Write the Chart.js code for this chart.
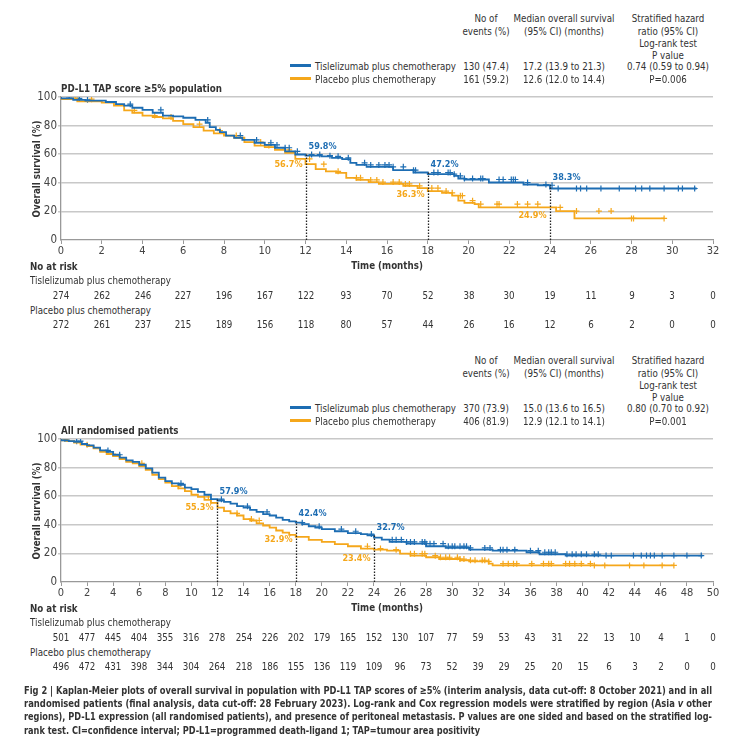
<!DOCTYPE html>
<html>
<head>
<meta charset="utf-8">
<script src="https://cdn.jsdelivr.net/npm/chart.js@4.4.1/dist/chart.umd.min.js"></script>
<style>
  html, body { margin: 0; padding: 0; background: #fff; }
  #page {
    position: relative; width: 736px; height: 740px; overflow: hidden;
    font-family: "Liberation Sans Narrow", "DejaVu Sans Condensed", "Liberation Sans", sans-serif;
    color: #333;
  }
  canvas { position: absolute; left: 0; }
  .t { position: absolute; white-space: nowrap; font-size: 11px; line-height: 13px; color: #333; }
  .b { font-weight: bold; }
  .key { position: absolute; width: 21px; height: 2.5px; }
  .cap { position: absolute; left: 24px; display: inline-block; font-size: 11px; line-height: 13px;
    font-weight: bold; color: #333; white-space: nowrap; transform-origin: 0 50%; }
</style>
</head>
<body>
<div id="page">
  <canvas id="km1" width="736" height="200" style="top:80px"></canvas>
  <canvas id="km2" width="736" height="200" style="top:422px"></canvas>
</div>
<script>
(function () {

  'use strict';

  var blue = '#1d6db3',
    orange = '#f5a71b',
    fontFamily = '"Liberation Sans Narrow", "DejaVu Sans Condensed", "Liberation Sans", sans-serif';

  Chart.defaults.font.family = fontFamily;

  // Group names and summary table
  const groups = ['Tislelizumab plus chemotherapy', 'Placebo plus chemotherapy'];
  const headerCols = [
    ['No of', 'events (%)'],
    ['Median overall survival', '(95% CI) (months)'],
    ['Stratified hazard', 'ratio (95% CI)', 'Log-rank test', 'P value']
  ];
  const summary1 = [
    ['130 (47.4)', '17.2 (13.9 to 21.3)', '0.74 (0.59 to 0.94)'],
    ['161 (59.2)', '12.6 (12.0 to 14.4)', 'P=0.006']
  ];
  const summary2 = [
    ['370 (73.9)', '15.0 (13.6 to 16.5)', '0.80 (0.70 to 0.92)'],
    ['406 (81.9)', '12.9 (12.1 to 14.1)', 'P=0.001']
  ];

  // Panel 1: PD-L1 TAP score >=5% population
  const riskMonths1 = [0, 2, 4, 6, 8, 10, 12, 14, 16, 18, 20, 22, 24, 26, 28, 30, 32];
  const riskTis1 = [274, 262, 246, 227, 196, 167, 122, 93, 70, 52, 38, 30, 19, 11, 9, 3, 0];
  const riskPla1 = [272, 261, 237, 215, 189, 156, 118, 80, 57, 44, 26, 16, 12, 6, 2, 0, 0];

  // [month, survival %]
  const tisCurve1 = [
    [0, 100], [0.6, 99], [1.2, 98], [2.2, 97.5], [2.7, 96.5], [3.1, 95], [3.5, 94], [4, 92.5],
    [4.5, 91], [5, 89], [5.5, 87], [6, 86.5], [6.6, 85.5], [7.1, 84], [7.3, 82], [7.6, 79],
    [7.8, 77], [8.1, 75.5], [8.5, 73], [8.9, 71.5], [9.5, 70], [10, 68], [10.5, 66.5], [11, 64.5],
    [11.5, 62], [12, 59.8], [12.8, 59], [13.3, 58.5], [13.8, 57.5], [14.2, 56.5], [14.5, 54],
    [15, 52.5], [16.3, 51.2], [17.3, 48.8], [18, 47.2], [19.3, 46], [19.5, 44.9], [19.8, 43],
    [21, 42.3], [22.7, 40.2], [23.4, 38.8], [24, 38.3], [24.4, 36], [31.2, 36]
  ];
  const plaCurve1 = [
    [0, 100], [0.8, 98.5], [2, 97], [2.6, 96], [3.1, 94], [3.5, 90.7], [4, 89], [4.5, 87],
    [5, 86], [5.5, 85], [6, 83.3], [6.5, 81], [7, 79], [7.5, 76.5], [8, 74.5], [8.5, 73],
    [9, 71.5], [9.5, 68.5], [10, 66], [10.5, 65], [11, 63], [11.5, 61], [12, 56.7], [12.5, 53],
    [13, 49.5], [13.5, 48], [14, 47], [14.5, 43.5], [15.1, 42], [15.6, 40.5], [16.8, 39.2],
    [17.5, 37.8], [18, 36.3], [18.7, 34.2], [19.2, 33], [19.5, 31], [19.8, 27.5], [20.3, 26],
    [20.5, 25.1], [24.3, 22.8], [25.2, 20.2], [27.8, 15.1], [29.6, 15.1]
  ];
  const tisCensor1 = [0.4, 0.9, 1.3, 3.4, 4.9, 7.2, 8.8, 9.6, 10.3, 10.6, 11.0, 11.2, 11.6, 12.3,
    12.7, 13.2, 13.6, 14.1, 14.9, 15.2, 15.6, 15.9, 16.1, 16.3, 16.8, 17.3, 17.4, 18.3, 18.5,
    19.0, 19.1, 19.3, 19.6, 19.8, 20.2, 20.6, 20.7, 21.5, 21.7, 22.1, 22.2, 22.3, 22.9, 23.8,
    24.1, 24.4, 25.3, 25.5, 25.8, 26.5, 27.4, 28.2, 28.5, 28.9, 29.6, 30.3, 30.5, 31.1];
  const plaCensor1 = [0.7, 1.5, 3.6, 4.6, 5.4, 6.8, 7.8, 8.6, 9.8, 10.2, 11.2, 12.2, 12.9, 13.6,
    14.5, 14.7, 15.2, 15.5, 15.8, 16.3, 16.6, 16.9, 17.1, 17.6, 18.2, 18.5, 18.9, 19.2, 19.6,
    19.7, 20.2, 20.6, 21.4, 21.5, 22.4, 22.9, 23.4, 24.5, 25.3, 26.4, 27.0, 28.0, 28.1, 29.6];

  const landmarks1 = [12, 18, 24];
  const tisLandmark1 = [59.8, 47.2, 38.3];
  const plaLandmark1 = [56.7, 36.3, 24.9];

  // Panel 2: All randomised patients
  const riskMonths2 = [0, 2, 4, 6, 8, 10, 12, 14, 16, 18, 20, 22, 24, 26, 28, 30, 32, 34, 36,
    38, 40, 42, 44, 46, 48, 50];
  const riskTis2 = [501, 477, 445, 404, 355, 316, 278, 254, 226, 202, 179, 165, 152, 130, 107,
    77, 59, 53, 43, 31, 22, 13, 10, 4, 1, 0];
  const riskPla2 = [496, 472, 431, 398, 344, 304, 264, 218, 186, 155, 136, 119, 109, 96, 73,
    52, 39, 29, 25, 20, 15, 6, 3, 2, 0, 0];

  const tisCurve2 = [
    [0, 100], [0.6, 99], [1, 98.5], [1.6, 98], [2, 96.5], [2.5, 95.5], [3, 94], [3.5, 92],
    [4, 91], [4.5, 89], [5, 87], [5.5, 85], [6, 84], [6.5, 82], [7, 79.5], [7.5, 76.5], [8, 73],
    [8.5, 70.5], [9, 69], [9.5, 68], [10, 66], [10.5, 65], [11, 63], [11.5, 61], [12, 57.9],
    [12.5, 57], [13, 56], [13.5, 54.8], [14, 53], [14.5, 52], [15, 50.5], [15.5, 49], [16, 47.5],
    [16.5, 46.5], [17, 45], [17.5, 43.5], [18, 42.4], [18.5, 41.5], [19, 40.5], [19.5, 39],
    [20, 38], [21, 37], [22, 35.5], [23, 34.2], [23.5, 33.5], [24, 32.7], [24.6, 31], [25.2, 29.6],
    [26.5, 28], [28, 26.8], [29.5, 25], [31.3, 23.8], [33.1, 22.6], [35.7, 21.9], [36.7, 20.8],
    [38.7, 19.4], [41.5, 18.5], [49.2, 18.5]
  ];
  const plaCurve2 = [
    [0, 100], [0.5, 99], [1, 98.5], [1.5, 97.5], [2, 96], [2.5, 95], [3, 93.5], [3.5, 91],
    [4, 89.5], [4.5, 88], [5, 86], [5.5, 84], [6, 83], [6.5, 81], [7, 78.5], [7.5, 75], [8, 72],
    [8.5, 69.5], [9, 67], [9.5, 65.5], [10, 63.5], [10.5, 61], [11, 59.5], [11.5, 57.5],
    [12, 55.3], [12.5, 52], [13, 49.5], [13.5, 48], [14, 46.5], [14.5, 44], [15, 43], [15.5, 41],
    [16, 39.5], [16.5, 38], [17, 36], [17.5, 34.5], [18, 32.9], [19, 31.5], [20, 29.5], [21, 28],
    [22, 26.5], [23, 25], [24, 23.4], [25, 22.6], [26, 21.9], [26.8, 19.8], [28, 18.4],
    [29, 17.3], [30.6, 16.1], [31.3, 15.2], [32.8, 14.4], [33.1, 12.8], [40.8, 11.6], [47, 11.6]
  ];
  const tisCensor2 = [0.3, 1.2, 1.5, 3.6, 4.5, 9.2, 12.3, 14.3, 15.8, 18.5, 19.8, 21.5, 22.6,
    23.8, 25.4, 25.7, 26.1, 26.5, 26.8, 27.1, 27.7, 27.9, 28.0, 28.3, 28.6, 29.3, 29.7, 30.0,
    30.2, 30.6, 30.9, 31.1, 31.4, 32.5, 32.9, 33.7, 33.9, 34.2, 34.8, 36.0, 36.6, 37.1, 37.4,
    37.6, 37.9, 38.8, 39.2, 39.5, 39.9, 40.3, 40.9, 41.2, 41.8, 42.2, 43.9, 44.5, 44.9, 45.2,
    45.5, 46.1, 47.0, 48.0, 49.1];
  const plaCensor2 = [0.4, 2, 4, 6.2, 9, 11.3, 13.5, 14.6, 15.2, 23.5, 24.5, 25.7, 26.8, 27.1,
    27.7, 27.9, 28.7, 29.1, 29.5, 29.8, 30.4, 30.6, 30.9, 31.4, 31.75, 32.3, 32.5, 32.8, 33.9,
    34.3, 34.7, 34.95, 36.1, 37.0, 37.4, 37.6, 38.7, 39.0, 39.4, 39.9, 40.6, 40.9, 41.7, 43.6,
    44.7, 46.1, 47.0];

  const landmarks2 = [12, 18, 24];
  const tisLandmark2 = [57.9, 42.4, 32.7];
  const plaLandmark2 = [55.3, 32.9, 23.4];


  function toXY(curve) {
    return curve.map(function (p) { return { x: p[0], y: p[1] }; });
  }

  // survival value of a step curve at time t
  function survAt(curve, t) {
    var s = curve[0][1];
    curve.forEach(function (p) { if (p[0] <= t) s = p[1]; });
    return s;
  }

  // dotted lines at 12/18/24 months with the % labels
  var landmarkPlugin = {
    id: 'landmarks',
    afterDatasetsDraw: function (chart, args, opts) {
      var ctx = chart.ctx, xs = chart.scales.x, ys = chart.scales.y;
      ctx.save();
      opts.months.forEach(function (m, i) {
        var x = Math.round(xs.getPixelForValue(m)) + 0.5;
        var yTop = ys.getPixelForValue(opts.tis[i]);
        var yPla = ys.getPixelForValue(opts.pla[i]);
        ctx.strokeStyle = '#222';
        ctx.lineWidth = 1.3;
        ctx.setLineDash([1.5, 1.5]);
        ctx.beginPath();
        ctx.moveTo(x, ys.getPixelForValue(0));
        ctx.lineTo(x, yTop);
        ctx.stroke();
        ctx.setLineDash([]);
        ctx.font = 'bold 9px ' + fontFamily;
        ctx.textBaseline = 'middle';
        ctx.fillStyle = blue;
        ctx.textAlign = 'left';
        ctx.fillText(opts.tis[i].toFixed(1) + '%', x + 2, yTop - 8);
        ctx.fillStyle = orange;
        ctx.textAlign = 'right';
        ctx.fillText(opts.pla[i].toFixed(1) + '%', x - 4, yPla + opts.plaDy[i]);
      });
      ctx.restore();
    }
  };

  function kmChart(id, maxMonth, tis, pla, tisCens, plaCens, marks) {
    var line = function (curve, color) {
      return {
        data: toXY(curve), borderColor: color, borderWidth: 1.8, stepped: 'after',
        pointRadius: 0, fill: false
      };
    };
    var censor = function (curve, times, color) {
      return {
        type: 'scatter', showLine: false,
        data: times.map(function (t) { return { x: t, y: survAt(curve, t) }; }),
        borderColor: color, backgroundColor: color, pointStyle: 'cross',
        pointRadius: 3, borderWidth: 1.2
      };
    };
    return new Chart(document.getElementById(id), {
      type: 'line',
      data: {
        datasets: [line(tis, blue), line(pla, orange), censor(tis, tisCens, blue), censor(pla, plaCens, orange)]
      },
      options: {
        responsive: false, animation: false, devicePixelRatio: 1,
        layout: { padding: { top: 17, right: 23, left: 0, bottom: 0 } },
        plugins: { legend: { display: false }, tooltip: { enabled: false }, landmarks: marks },
        scales: {
          x: {
            type: 'linear', min: 0, max: maxMonth,
            ticks: { stepSize: 2, autoSkip: false, maxRotation: 0, color: '#444', font: { size: 11 }, padding: 1 },
            grid: { drawOnChartArea: false, drawTicks: true, tickLength: 4, color: '#999' },
            border: { color: '#999', width: 1.3 },
            afterFit: function (s) { s.height = 40; }
          },
          y: {
            min: 0, max: 100,
            ticks: { stepSize: 20, color: '#444', font: { size: 11.5 }, padding: 1 },
            grid: {
              color: function (c) { return c.tick && c.tick.value === 0 ? 'rgba(0,0,0,0)' : '#c8c8c8'; },
              lineWidth: 1.5, tickLength: 3
            },
            border: { color: '#999', width: 1.3 },
            afterFit: function (s) { s.width = 61; }
          }
        }
      },
      plugins: [landmarkPlugin]
    });
  }


  var page = document.getElementById('page');

  // squeeze factor so the fallback font gets the condensed look of the original
  var probe = document.createElement('span');
  probe.className = 't';
  probe.textContent = groups[0];
  page.appendChild(probe);
  var K = 141 / probe.getBoundingClientRect().width;
  page.removeChild(probe);

  function put(text, x, y, align, cls, rot) {
    var d = document.createElement('div');
    d.className = 't' + (cls ? ' ' + cls : '');
    d.textContent = text;
    d.style.left = x + 'px';
    d.style.top = y + 'px';
    var tx = align === 'center' ? '-50%' : (align === 'right' ? '-100%' : '0');
    var ox = align === 'center' ? '50%' : (align === 'right' ? '100%' : '0');
    d.style.transformOrigin = ox + ' 50%';
    d.style.transform = 'translate(' + tx + ',-50%)' + (rot ? ' rotate(-90deg)' : '') + ' scaleX(' + K + ')';
    page.appendChild(d);
    return d;
  }

  // header, legend keys and summary numbers
  function header(dy, title, summary) {
    var colX = [486, 564, 668];
    var lineY = [18, 30.5, 42.5, 54.5];
    headerCols.forEach(function (lines, c) {
      lines.forEach(function (txt, k) { put(txt, colX[c], dy + lineY[k], 'center'); });
    });
    [blue, orange].forEach(function (color, r) {
      var y = dy + 65.5 + r * 13;
      var key = document.createElement('div');
      key.className = 'key';
      key.style.left = '290px';
      key.style.top = (y - 1.2) + 'px';
      key.style.background = color;
      page.appendChild(key);
      put(groups[r], 315, y, 'left');
      summary[r].forEach(function (txt, c) { put(txt, colX[c], y, 'center'); });
    });
    put(title, 61, dy + 88, 'left', 'b');
  }

  // axis titles and number at risk table under each panel
  function riskTable(chart, dy, months, tisRisk, plaRisk) {
    var xs = chart.scales.x, ys = chart.scales.y;
    put('Overall survival (%)', 36, dy + 80 + (ys.top + ys.bottom) / 2, 'center', 'b', true);
    put('Time (months)', (xs.left + xs.right) / 2, dy + 265, 'center', 'b');
    put('No at risk', 30, dy + 266, 'left', 'b');
    put(groups[0], 30, dy + 280, 'left');
    put(groups[1], 30, dy + 309.5, 'left');
    months.forEach(function (m, i) {
      var x = xs.getPixelForValue(m);
      put(String(tisRisk[i]), x, dy + 294.5, 'center');
      put(String(plaRisk[i]), x, dy + 324, 'center');
    });
  }

  var km1 = kmChart('km1', 32, tisCurve1, plaCurve1, tisCensor1, plaCensor1,
    { months: landmarks1, tis: tisLandmark1, pla: plaLandmark1, plaDy: [6, 7, 11] });
  var km2 = kmChart('km2', 50, tisCurve2, plaCurve2, tisCensor2, plaCensor2,
    { months: landmarks2, tis: tisLandmark2, pla: plaLandmark2, plaDy: [5, 5, 10] });

  header(0, 'PD-L1 TAP score \u22655% population', summary1);
  header(342, 'All randomised patients', summary2);
  riskTable(km1, 0, riskMonths1, riskTis1, riskPla1);
  riskTable(km2, 342, riskMonths2, riskTis2, riskPla2);

  // figure caption, each line squeezed to the printed width
  var captionLines = [
    'Fig 2 | Kaplan-Meier plots of overall survival in population with PD-L1 TAP scores of \u22655% (interim analysis, data cut-off: 8 October 2021) and in all',
    'randomised patients (final analysis, data cut-off: 28 February 2023). Log-rank and Cox regression models were stratified by region (Asia <i>v</i> other',
    'regions), PD-L1 expression (all randomised patients), and presence of peritoneal metastasis. P values are one sided and based on the stratified log-',
    'rank test. CI=confidence interval; PD-L1=programmed death-ligand 1; TAP=tumour area positivity'
  ];
  var capScale = 1;
  captionLines.forEach(function (txt, i) {
    var d = document.createElement('div');
    d.className = 'cap';
    d.innerHTML = txt;
    d.style.top = (683.5 + i * 13.4) + 'px';
    page.appendChild(d);
    if (i < captionLines.length - 1) capScale = 688 / d.getBoundingClientRect().width;
    d.style.transform = 'scaleX(' + capScale + ')';
  });

})();
</script>
</body>
</html>
